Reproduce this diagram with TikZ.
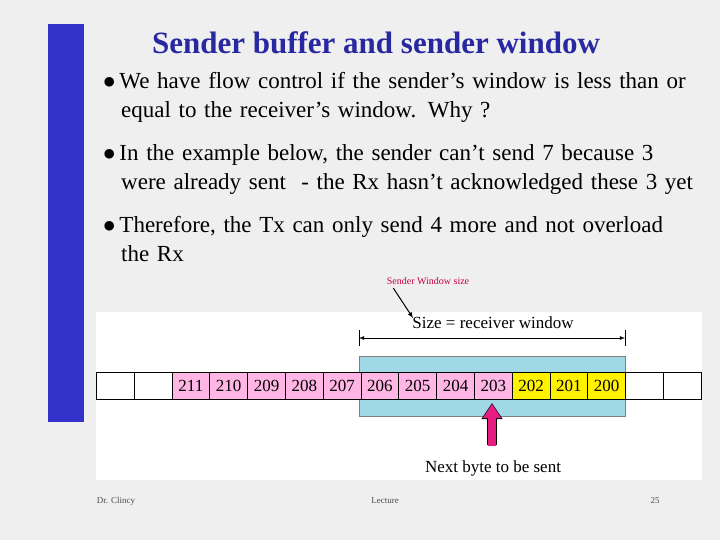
\documentclass[tikz,border=0pt]{standalone}
\usepackage{fontspec}
\setmainfont{Liberation Serif}
\usetikzlibrary{arrows.meta}
\begin{document}
\begin{tikzpicture}[x=1pt,y=-1pt,
 cell/.style={draw=black,line width=0.8pt,minimum width=37.8pt,minimum height=27pt,inner sep=0pt,font=\fontsize{17}{17}\selectfont,anchor=north west},
 bul/.style={anchor=north west,text width=620pt,align=left,font=\fontsize{23}{29}\selectfont,inner sep=0pt},
 foot/.style={font=\fontsize{9}{9}\selectfont,text=black!70}]
\useasboundingbox (0,0) rectangle (720,540);
\fill[blue!5!gray!12] (0,0) rectangle (720,540);
\fill[fill={rgb,255:red,51;green,51;blue,204}] (48,24) rectangle (84,422);
\node[font=\fontsize{31}{31}\selectfont\bfseries,text={rgb,255:red,40;green,40;blue,160}] (title) at (376,43) {Sender buffer and sender window};
\node[bul] (b1) at (103,72) {$\bullet$\,We have flow control if the sender's window is less than or\\\hspace*{18pt}equal to the receiver's window. Why ?};
\node[bul] (b2) at (103,144) {$\bullet$\,In the example below, the sender can't send 7 because 3\\\hspace*{18pt}were already sent\ \ - the Rx hasn't acknowledged these 3 yet};
\node[bul] (b3) at (103,216) {$\bullet$\,Therefore, the Tx can only send 4 more and not overload\\\hspace*{18pt}the Rx};
\fill[white] (96,312) rectangle (702,480);
\fill[fill={rgb,255:red,160;green,216;blue,230},draw=gray] (359,356) rectangle (625,416);
\foreach \t [count=\i from 0] in {,,211,210,209,208,207,206,205,204,203,202,201,200,,}{
  \pgfmathsetmacro\xx{96+37.8*\i}
  \ifnum\i<2 \def\col{white}\else\ifnum\i<11 \def\col{pink!70!magenta!60}\else\ifnum\i<14 \def\col{yellow}\else\def\col{white}\fi\fi\fi
  \node[cell,fill=\col] (c\i) at (\xx,372) {\t};
}
\draw[line width=0.8pt] (359,330) -- (359,346) (625,330) -- (625,346);
\coordinate (sl) at (359,338); \coordinate (sr) at (625,338);
\draw[<->,>=latex,line width=0.8pt] (sl) -- (sr);
\node[font=\fontsize{17}{17}\selectfont] (size) at (493,323) {Size = receiver window};
\node[font=\fontsize{10}{10}\selectfont,text={rgb,255:red,200;green,0;blue,60}] (swl) at (428,281) {Sender Window size};
\coordinate (swe) at (413,318);
\draw[->,>=latex,line width=1pt] (swl.south west) ++(10,0) -- (swe);
\node[font=\fontsize{17}{17}\selectfont] (next) at (493,468) {Next byte to be sent};
\coordinate (ps) at (492,445); \coordinate (pe) at (492,403);
\draw[-{Triangle[width=20pt,length=16pt]},line width=10pt,draw=black] (ps) -- (pe);
\draw[-{Triangle[width=17pt,length=14pt]},line width=8pt,draw={rgb,255:red,230;green,30;blue,130}] ([yshift=-1pt]ps) -- ([yshift=-1pt]pe);
\node[foot] (f1) at (116,501) {Dr. Clincy};
\node[foot] (f2) at (385,501) {Lecture};
\node[foot] (f3) at (655,501) {25};
\end{tikzpicture}
\end{document}
